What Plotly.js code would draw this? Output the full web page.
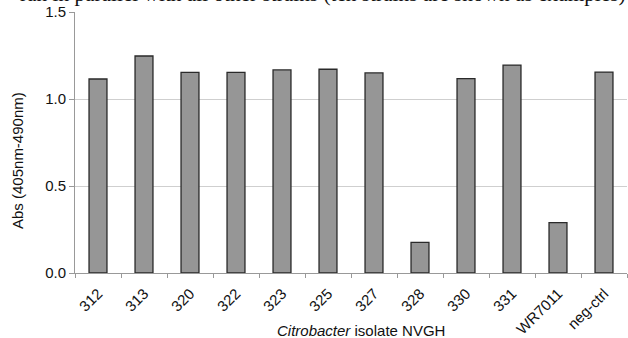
<!DOCTYPE html>
<html><head><meta charset="utf-8">
<script src="https://cdn.plot.ly/plotly-3.0.1.min.js"></script>
<style>html,body{margin:0;padding:0;background:#fff}#c{width:628px;height:338px}</style>
</head><body><div id="c"></div>
<script>
const categories = ["312","313","320","322","323","325","327","328","330","331","WR7011","neg-ctrl"];
const absValues = [1.115,1.247,1.153,1.153,1.167,1.171,1.150,0.176,1.117,1.195,0.289,1.155];
const yTicks = [0,0.5,1.0,1.5];
const yTickText = ["0.0","0.5","1.0","1.5"];
const titleText = "ran in parallel with all other strains (ten strains are shown as examples)";
const xTitle = "<i>Citrobacter</i> isolate NVGH";
const yTitle = "Abs (405nm-490nm)";

const trace = {
  type: "bar", x: categories, y: absValues,
  marker: {color: "#969696", line: {color: "#2a2a2a", width: 1.3}},
  hoverinfo: "none"
};
const layout = {
  width: 628, height: 338,
  margin: {l: 75, r: 1, t: 12, b: 65},
  paper_bgcolor: "#fff", plot_bgcolor: "#fff",
  bargap: 0.61,
  showlegend: false,
  font: {family: "Liberation Sans, Arial, sans-serif", size: 15, color: "#111"},
  xaxis: {
    type: "category", tickangle: -45, tickson: "boundaries",
    ticks: "outside", ticklen: 4, tickcolor: "#999", showgrid: false,
    showline: true, linecolor: "#999", linewidth: 1,
    ticklabelstandoff: 5,
    tickfont: {size: 15, color: "#111"}, automargin: false
  },
  yaxis: {
    range: [0, 1.5], tickvals: yTicks, ticktext: yTickText,
    ticks: "outside", ticklen: 5, tickcolor: "#999",
    showgrid: true, gridcolor: "#cfcfcf", gridwidth: 1,
    showline: true, linecolor: "#999", linewidth: 1, zeroline: false,
    tickfont: {size: 15, color: "#111"}, automargin: false
  },
  annotations: [
    {text: titleText, xref: "paper", yref: "paper", x: 1 + 1/552, xanchor: "right",
     y: 1 + 4/261, yanchor: "bottom", showarrow: false,
     font: {family: "Liberation Serif, Times New Roman, serif", size: 21.3, color: "#111"}},
    {text: xTitle, xref: "paper", yref: "paper", x: (361-75)/552, xanchor: "center",
     y: -(330-273)/261, yanchor: "middle", showarrow: false,
     font: {size: 15, color: "#111"}},
    {text: yTitle, xref: "paper", yref: "paper", x: -(75-18)/552, xanchor: "center",
     y: (273-161)/261, yanchor: "middle", showarrow: false, textangle: -90,
     font: {size: 15, color: "#111"}}
  ]
};
Plotly.newPlot("c", [trace], layout, {staticPlot: true, displayModeBar: false});
</script></body></html>
